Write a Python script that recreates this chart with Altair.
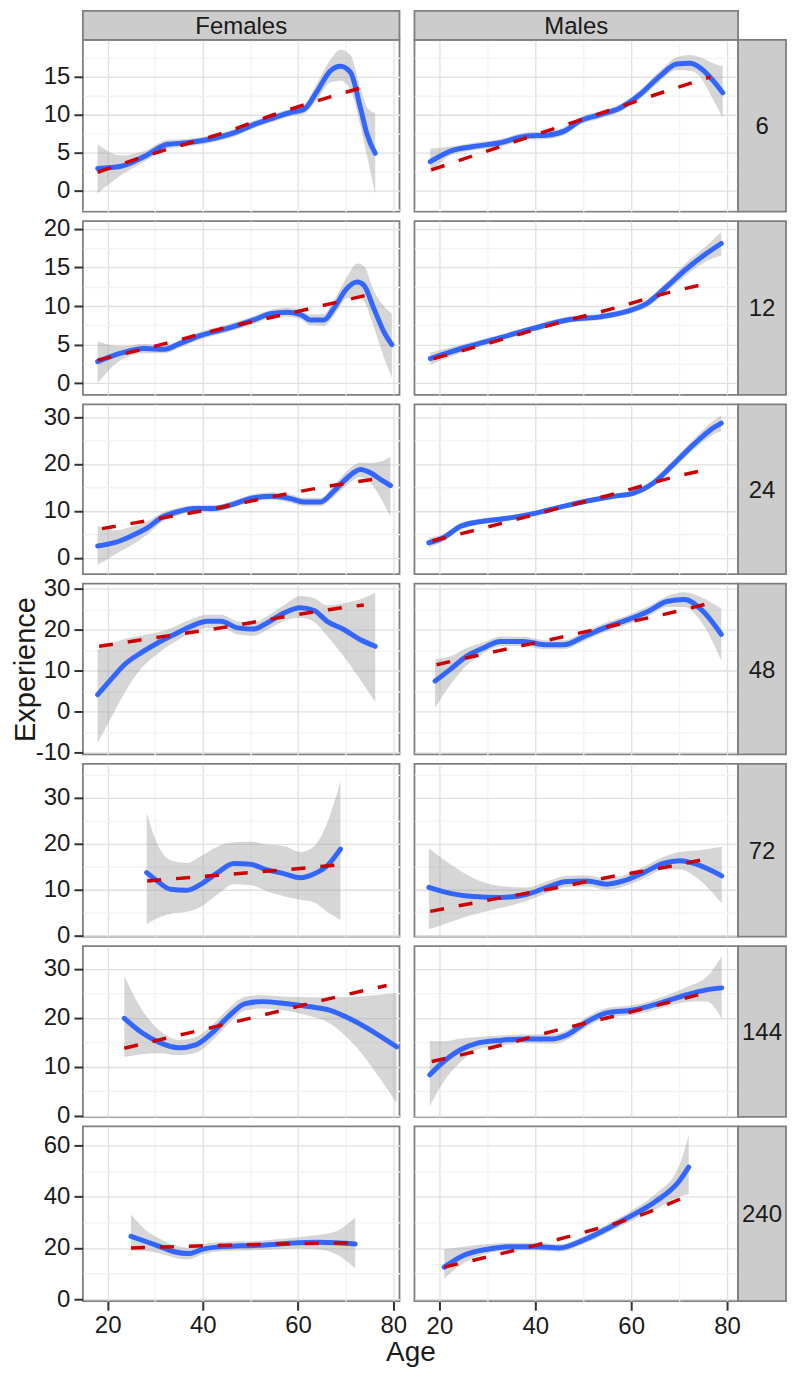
import altair as alt
import pandas as pd

FONT = "Liberation Sans"
ROWS = ["6", "12", "24", "48", "72", "144", "240"]
SEXES = ["Females", "Males"]

# ---------------- Row 6 ----------------
F6_AGE = [17.9, 22.8, 27.7, 32.6, 36.8, 42.4, 46.5, 50.7, 54.9, 58.4, 61.2, 64.0, 66.8, 68.9, 71.0, 73.1, 74.5, 76.2]
F6_FIT = [2.9, 3.2, 4.5, 6.1, 6.3, 6.9, 7.6, 8.7, 9.6, 10.3, 10.7, 13.1, 15.8, 16.4, 15.6, 10.9, 7.4, 4.9]
F6_LO = [-0.4, 2.0, 3.8, 5.5, 5.8, 6.4, 7.1, 8.2, 9.1, 9.8, 10.1, 12.0, 14.3, 14.5, 13.3, 8.5, 4.5, -0.5]
F6_HI = [6.1, 4.6, 5.2, 6.7, 6.8, 7.4, 8.1, 9.2, 10.1, 10.8, 11.3, 14.2, 17.3, 18.6, 17.9, 13.5, 11.0, 10.2]
F6_LAGE = [17.9, 31.3, 43.3, 54.9, 66.4, 74.1]
F6_LIN = [2.4, 5.2, 7.4, 10.0, 12.3, 13.7]

M6_AGE = [18.1, 22.3, 27.1, 32.7, 38.3, 42.4, 45.9, 49.4, 53.5, 57.7, 61.9, 66.0, 69.5, 72.3, 74.4, 77.1, 79.1]
M6_FIT = [3.8, 5.2, 5.8, 6.3, 7.2, 7.3, 7.8, 9.2, 10.0, 10.9, 12.7, 15.1, 16.7, 16.8, 16.2, 14.5, 12.9]
M6_LO = [2.3, 4.6, 5.3, 5.8, 6.7, 6.8, 7.3, 8.7, 9.5, 10.4, 12.1, 14.4, 15.9, 15.8, 15.0, 12.0, 9.6]
M6_HI = [5.5, 5.8, 6.3, 6.8, 7.7, 7.8, 8.3, 9.7, 10.5, 11.4, 13.3, 15.8, 17.6, 17.9, 17.6, 16.8, 16.4]
M6_LAGE = [18.3, 31.8, 43.6, 56.1, 68.6, 76.6]
M6_LIN = [2.7, 5.6, 8.1, 10.7, 13.4, 15.0]

# ---------------- Row 12 ----------------
F12_AGE = [17.9, 22.8, 27.7, 31.9, 35.4, 39.6, 45.2, 50.7, 54.2, 57.7, 60.5, 62.6, 65.4, 67.5, 70.3, 72.4, 73.8, 75.9, 78.0, 79.7]
F12_FIT = [2.8, 3.9, 4.5, 4.4, 5.2, 6.2, 7.1, 8.2, 9.0, 9.2, 8.9, 8.2, 8.2, 9.7, 12.3, 13.1, 12.7, 9.7, 6.7, 5.0]
F12_LO = [0.0, 3.0, 3.9, 3.9, 4.7, 5.7, 6.6, 7.7, 8.5, 8.6, 8.3, 7.5, 7.4, 8.7, 11.0, 11.0, 10.6, 7.3, 3.4, 0.7]
F12_HI = [5.4, 4.8, 5.1, 4.9, 5.7, 6.7, 7.6, 8.7, 9.5, 9.8, 9.5, 8.9, 9.0, 10.7, 13.8, 15.5, 15.2, 12.0, 10.0, 9.0]
F12_LAGE = [17.9, 31.2, 44.1, 56.3, 68.9, 77.0]
F12_LIN = [3.0, 5.0, 7.1, 8.8, 10.6, 11.8]

M12_AGE = [18.1, 25.7, 32.7, 39.6, 46.6, 53.5, 59.1, 63.2, 67.4, 71.5, 75.7, 78.8]
M12_FIT = [3.2, 4.7, 5.9, 7.1, 8.2, 8.6, 9.3, 10.3, 12.5, 14.8, 16.8, 18.1]
M12_LO = [2.4, 4.2, 5.5, 6.7, 7.8, 8.2, 8.9, 9.8, 11.9, 14.0, 15.8, 16.5]
M12_HI = [4.0, 5.2, 6.3, 7.5, 8.6, 9.0, 9.7, 10.8, 13.1, 15.6, 17.8, 19.6]
M12_LAGE = [18.8, 32.0, 44.1, 56.3, 68.8, 76.6]
M12_LIN = [3.2, 5.5, 7.7, 9.7, 11.9, 13.0]

# ---------------- Row 24 ----------------
F24_AGE = [17.9, 21.4, 24.9, 28.4, 31.2, 34.7, 38.2, 42.4, 46.6, 50.7, 54.9, 58.4, 61.2, 64.7, 67.5, 70.3, 73.1, 75.2, 77.3, 79.4]
F24_FIT = [2.5, 3.2, 4.6, 6.4, 8.5, 9.8, 10.5, 10.5, 11.5, 12.8, 13.1, 12.6, 11.9, 11.9, 14.2, 17.0, 18.8, 18.1, 16.7, 15.4]
F24_LO = [-1.5, 0.6, 2.6, 5.0, 7.5, 9.0, 9.8, 9.8, 10.8, 12.0, 12.3, 11.7, 11.0, 11.0, 13.0, 15.5, 17.2, 16.0, 12.8, 8.8]
F24_HI = [6.8, 5.8, 6.6, 7.8, 9.5, 10.6, 11.2, 11.2, 12.2, 13.6, 13.9, 13.5, 12.8, 12.8, 15.4, 18.5, 20.3, 20.2, 20.5, 21.4]
F24_LAGE = [18.8, 31.0, 43.0, 56.0, 68.5, 77.0]
F24_LIN = [6.2, 8.4, 10.6, 13.3, 15.6, 16.9]

M24_AGE = [17.8, 20.9, 24.4, 28.5, 34.1, 39.6, 45.2, 50.8, 56.3, 60.5, 64.7, 68.8, 73.0, 76.6, 78.8]
M24_FIT = [3.2, 4.3, 6.7, 7.7, 8.4, 9.4, 10.8, 12.1, 13.1, 13.8, 16.0, 19.9, 24.1, 27.3, 28.7]
M24_LO = [2.2, 3.5, 6.0, 7.1, 7.9, 8.9, 10.3, 11.6, 12.6, 13.2, 15.3, 19.0, 23.0, 25.9, 27.0]
M24_HI = [4.3, 5.1, 7.4, 8.3, 8.9, 9.9, 11.3, 12.6, 13.6, 14.4, 16.7, 20.8, 25.2, 28.7, 30.3]
M24_LAGE = [18.5, 32.1, 43.9, 56.4, 68.9, 76.6]
M24_LIN = [3.6, 7.1, 10.3, 13.6, 17.2, 19.0]

# ---------------- Row 48 ----------------
F48_AGE = [17.9, 20.7, 23.5, 27.0, 30.5, 34.0, 37.5, 41.0, 43.8, 47.3, 50.7, 53.5, 57.0, 60.5, 63.3, 66.1, 69.6, 73.1, 76.2]
F48_FIT = [4.2, 7.9, 11.5, 14.4, 16.8, 18.9, 20.9, 22.1, 22.1, 20.5, 20.2, 21.7, 24.1, 25.4, 24.8, 22.1, 20.1, 17.6, 16.0]
F48_LO = [-7.6, -1.5, 4.5, 10.5, 14.2, 17.0, 19.2, 20.5, 20.5, 18.9, 18.6, 20.0, 22.2, 23.0, 22.0, 18.5, 13.5, 7.8, 2.4]
F48_HI = [15.2, 16.6, 17.8, 18.6, 19.4, 20.8, 22.6, 23.7, 23.7, 22.1, 21.8, 23.4, 26.0, 28.3, 27.8, 26.0, 26.5, 27.5, 29.0]
F48_LAGE = [18.2, 31.2, 43.8, 54.6, 66.8, 73.8]
F48_LIN = [16.0, 18.3, 20.5, 22.7, 25.0, 26.1]

M48_AGE = [19.1, 22.2, 25.7, 29.2, 32.7, 37.6, 41.9, 46.0, 50.2, 54.4, 59.3, 63.5, 67.6, 71.1, 74.6, 78.8]
M48_FIT = [7.5, 10.3, 13.6, 15.6, 17.2, 17.2, 16.4, 16.4, 18.4, 20.5, 22.5, 24.5, 27.0, 27.4, 25.0, 18.9]
M48_LO = [1.0, 6.5, 11.3, 14.3, 16.0, 16.1, 15.3, 15.3, 17.3, 19.4, 21.4, 23.3, 25.6, 25.6, 22.0, 12.5]
M48_HI = [12.8, 13.5, 15.6, 16.9, 18.4, 18.3, 17.5, 17.5, 19.5, 21.6, 23.6, 25.7, 28.3, 29.2, 28.0, 25.2]
M48_LAGE = [19.4, 32.7, 44.5, 57.1, 69.4, 76.6]
M48_LIN = [11.5, 15.0, 18.0, 21.3, 24.5, 26.6]

# ---------------- Row 72 ----------------
F72_AGE = [28.2, 30.4, 33.2, 36.7, 39.6, 43.1, 46.5, 50.0, 53.5, 57.0, 60.5, 63.3, 66.1, 68.9]
F72_FIT = [13.7, 11.9, 10.1, 9.9, 11.2, 13.7, 15.7, 15.5, 14.3, 13.5, 12.6, 13.4, 15.2, 18.8]
F72_LO = [2.5, 3.8, 4.8, 5.2, 6.3, 9.0, 11.2, 11.0, 9.6, 8.6, 7.8, 7.3, 5.2, 3.4]
F72_HI = [26.7, 20.0, 16.4, 15.8, 17.3, 19.4, 20.3, 20.4, 19.8, 19.5, 18.2, 19.4, 24.5, 33.5]
F72_LAGE = [28.3, 41.6, 54.6, 68.9]
F72_LIN = [11.9, 13.0, 14.1, 15.4]

M72_AGE = [17.8, 22.3, 27.1, 32.7, 38.3, 42.4, 46.6, 50.8, 54.9, 58.4, 62.6, 66.7, 70.2, 73.7, 78.9]
M72_FIT = [10.5, 9.2, 8.5, 8.3, 9.0, 10.5, 11.8, 11.9, 11.2, 11.9, 13.7, 15.7, 16.3, 15.5, 13.0]
M72_LO = [1.4, 3.0, 4.6, 6.0, 7.6, 9.2, 10.6, 10.7, 10.0, 10.7, 12.4, 14.3, 14.4, 12.6, 7.0]
M72_HI = [19.0, 15.5, 12.5, 10.8, 10.5, 11.8, 13.0, 13.1, 12.4, 13.1, 15.0, 17.1, 18.2, 18.5, 19.3]
M72_LAGE = [18.1, 31.6, 43.8, 56.3, 68.8, 76.6]
M72_LIN = [5.3, 8.0, 10.3, 12.9, 15.2, 16.9]

# ---------------- Row 144 ----------------
F144_AGE = [23.5, 27.3, 30.8, 35.0, 38.5, 41.9, 45.4, 48.9, 52.4, 57.3, 62.2, 66.4, 71.3, 76.2, 80.7]
F144_FIT = [19.9, 16.9, 15.0, 13.9, 14.5, 16.9, 20.3, 22.9, 23.3, 22.9, 22.3, 21.6, 19.6, 16.9, 14.1]
F144_LO = [12.0, 12.6, 12.8, 12.4, 12.9, 15.3, 18.8, 21.5, 21.9, 21.5, 20.4, 19.0, 15.0, 9.0, 2.6]
F144_HI = [28.5, 21.5, 17.5, 15.5, 16.1, 18.5, 21.9, 24.3, 24.6, 24.3, 24.2, 24.2, 24.3, 24.6, 25.1]
F144_LAGE = [23.5, 30.8, 42.6, 54.5, 65.7, 78.6]
F144_LIN = [13.8, 15.5, 18.2, 21.0, 23.7, 26.6]

M144_AGE = [18.0, 20.9, 24.4, 27.8, 32.7, 38.3, 43.8, 46.6, 50.8, 54.9, 60.5, 66.0, 71.6, 75.7, 78.9]
M144_FIT = [8.4, 11.1, 13.5, 14.8, 15.4, 15.7, 15.7, 16.5, 19.2, 21.0, 21.6, 23.0, 24.7, 25.7, 26.1]
M144_LO = [2.0, 7.0, 11.0, 13.5, 14.4, 14.8, 14.7, 15.5, 18.2, 20.0, 20.6, 21.9, 23.2, 23.3, 19.8]
M144_HI = [15.3, 15.2, 15.8, 16.1, 16.4, 16.6, 16.7, 17.5, 20.2, 22.0, 22.6, 24.1, 26.3, 28.3, 32.5]
M144_LAGE = [18.4, 31.6, 44.2, 56.7, 69.2, 76.6]
M144_LIN = [11.1, 14.1, 17.4, 20.4, 23.5, 25.3]

# ---------------- Row 240 ----------------
F240_AGE = [24.9, 28.0, 31.0, 34.0, 37.0, 40.0, 44.0, 48.0, 52.0, 56.0, 60.0, 64.0, 68.0, 72.0]
F240_FIT = [24.5, 22.5, 20.5, 18.5, 17.8, 19.5, 20.5, 20.8, 21.0, 21.5, 22.0, 22.2, 22.0, 21.5]
F240_LO = [19.0, 18.8, 17.8, 16.2, 15.5, 17.5, 18.7, 19.0, 19.2, 19.5, 19.8, 19.5, 17.5, 12.0]
F240_HI = [33.0, 27.0, 23.5, 21.0, 20.0, 21.5, 22.3, 22.6, 22.8, 23.5, 24.2, 25.0, 26.5, 32.0]
F240_LAGE = [24.9, 40.0, 56.0, 72.0]
F240_LIN = [20.0, 20.8, 21.5, 22.0]

M240_AGE = [21.0, 25.0, 30.0, 35.0, 40.0, 45.0, 50.0, 55.0, 60.0, 65.0, 70.0, 72.0]
M240_FIT = [12.5, 17.0, 19.5, 20.5, 20.5, 20.0, 23.0, 27.5, 32.5, 38.0, 46.0, 51.5]
M240_LO = [8.0, 14.0, 17.8, 19.0, 19.0, 18.5, 21.5, 25.8, 30.5, 35.0, 40.0, 41.0]
M240_HI = [19.5, 20.5, 21.5, 22.0, 22.0, 21.5, 24.5, 29.2, 34.5, 41.0, 52.0, 64.0]
M240_LAGE = [21.0, 30.0, 40.0, 50.0, 60.0, 72.0]
M240_LIN = [12.5, 16.5, 21.0, 26.0, 31.5, 40.5]

# ---------------- scales / ticks ----------------
Y_DOMAIN = {"6": [-2.8, 19.9], "12": [-1.5, 21.0], "24": [-3.5, 32.7], "48": [-10.4, 31.3],
            "72": [-0.2, 37.3], "144": [-0.2, 34.6], "240": [-0.8, 67.4]}
Y_STEP = {"6": 5, "12": 5, "24": 10, "48": 10, "72": 10, "144": 10, "240": 20}
Y_GRID = {"6": [-2.5, 0, 2.5, 5, 7.5, 10, 12.5, 15, 17.5],
          "12": [0, 2.5, 5, 7.5, 10, 12.5, 15, 17.5, 20],
          "24": [0, 5, 10, 15, 20, 25, 30],
          "48": [-10, -5, 0, 5, 10, 15, 20, 25, 30],
          "72": [0, 5, 10, 15, 20, 25, 30, 35],
          "144": [0, 5, 10, 15, 20, 25, 30],
          "240": [0, 10, 20, 30, 40, 50, 60]}
X_GRID = [20, 30, 40, 50, 60, 70, 80]
X_DOMAIN = {"Females": [14.8, 81.3], "Males": [14.8, 82.3]}
PANEL_W = {"Females": 317, "Males": 324}
ROW_H = {"6": 172, "12": 174, "24": 170, "48": 171, "72": 173, "144": 171, "240": 175}
STRIP_W = 48
TOP_STRIP_H = 29

SERIES = {
    ("6", "Females"): (F6_AGE, F6_FIT, F6_LO, F6_HI, F6_LAGE, F6_LIN),
    ("6", "Males"): (M6_AGE, M6_FIT, M6_LO, M6_HI, M6_LAGE, M6_LIN),
    ("12", "Females"): (F12_AGE, F12_FIT, F12_LO, F12_HI, F12_LAGE, F12_LIN),
    ("12", "Males"): (M12_AGE, M12_FIT, M12_LO, M12_HI, M12_LAGE, M12_LIN),
    ("24", "Females"): (F24_AGE, F24_FIT, F24_LO, F24_HI, F24_LAGE, F24_LIN),
    ("24", "Males"): (M24_AGE, M24_FIT, M24_LO, M24_HI, M24_LAGE, M24_LIN),
    ("48", "Females"): (F48_AGE, F48_FIT, F48_LO, F48_HI, F48_LAGE, F48_LIN),
    ("48", "Males"): (M48_AGE, M48_FIT, M48_LO, M48_HI, M48_LAGE, M48_LIN),
    ("72", "Females"): (F72_AGE, F72_FIT, F72_LO, F72_HI, F72_LAGE, F72_LIN),
    ("72", "Males"): (M72_AGE, M72_FIT, M72_LO, M72_HI, M72_LAGE, M72_LIN),
    ("144", "Females"): (F144_AGE, F144_FIT, F144_LO, F144_HI, F144_LAGE, F144_LIN),
    ("144", "Males"): (M144_AGE, M144_FIT, M144_LO, M144_HI, M144_LAGE, M144_LIN),
    ("240", "Females"): (F240_AGE, F240_FIT, F240_LO, F240_HI, F240_LAGE, F240_LIN),
    ("240", "Males"): (M240_AGE, M240_FIT, M240_LO, M240_HI, M240_LAGE, M240_LIN),
}

GRID_MAJOR = "#E0E0E0"
GRID_MINOR = "#F3F3F3"
BORDER = "#7F7F7F"
STRIP_FILL = "#CCCCCC"
TEXT = "#1a1a1a"


def make_axis(values, step, show, **extra):
    major = f"datum.value % {step} === 0"
    kw = dict(
        values=values,
        grid=True,
        domain=False,
        gridColor={"condition": {"test": major, "value": GRID_MAJOR}, "value": GRID_MINOR},
        gridWidth=1.3,
        labelOverlap=False,
        labelFlush=False,
        labelBound=False,
    )
    if show:
        kw.update(
            labels=True,
            ticks=True,
            tickOpacity={"condition": {"test": major, "value": 1}, "value": 0},
            labelExpr=f"{major} ? '' + datum.value : ''",
        )
    else:
        kw.update(labels=False, ticks=False)
    kw.update(extra)
    return alt.Axis(**kw)


def strip_layers(label, x0, x1, y0, y1):
    df = pd.DataFrame({"label": [label]})
    box = alt.Chart(df).mark_rect(fill=STRIP_FILL, stroke=BORDER, strokeWidth=1.8).encode(
        x=alt.value(x0), x2=alt.value(x1), y=alt.value(y0), y2=alt.value(y1)
    )
    txt = alt.Chart(df).mark_text(
        fontSize=24, font=FONT, color=TEXT, align="center", baseline="alphabetic"
    ).encode(
        x=alt.value((x0 + x1) / 2), y=alt.value((y0 + y1) / 2 + 8.5), text="label:N"
    )
    return [box, txt]


def panel(row, sex):
    age, fit, lo, hi, lage, lin = SERIES[(row, sex)]
    band_df = pd.DataFrame({"age": age, "fit": fit, "lo": lo, "hi": hi})
    lin_df = pd.DataFrame({"age": lage, "lin": lin})
    w, h = PANEL_W[sex], ROW_H[row]

    bottom = row == ROWS[-1]
    left = sex == "Females"

    x_extra = {}
    if bottom and left:
        x_extra = dict(titleX=410 - 82, titlePadding=1, titleAlign="center",
                       labelPadding=3, titleFontSize=28)
    xaxis = make_axis(X_GRID, 20, bottom, **x_extra)

    y_extra = {}
    if left and row == "48":
        y_extra = dict(titleX=-57.5, titleY=h / 2, titleAngle=270,
                       titleAlign="center", titleBaseline="middle")
    yaxis = make_axis(Y_GRID[row], Y_STEP[row], left, **y_extra)

    xs = alt.Scale(domain=X_DOMAIN[sex], nice=False, zero=False)
    ys = alt.Scale(domain=Y_DOMAIN[row], nice=False, zero=False)
    x_title = "Age" if (bottom and left) else None
    y_title = "Experience" if (left and row == "48") else None
    X = alt.X("age:Q", scale=xs, axis=xaxis, title=x_title)

    band = alt.Chart(band_df).mark_area(color="#999999", opacity=0.4, interpolate="monotone").encode(
        x=X,
        y=alt.Y("lo:Q", scale=ys, axis=yaxis, title=y_title),
        y2="hi:Q",
    )
    blue = alt.Chart(band_df).mark_line(color="#3366FF", strokeWidth=5, interpolate="monotone",
                                        strokeCap="round", strokeJoin="round").encode(
        x=X,
        y=alt.Y("fit:Q", scale=ys, axis=yaxis, title=y_title),
    )
    red = alt.Chart(lin_df).mark_line(color="#CC0000", strokeWidth=3.5, strokeDash=[14, 15],
                                      interpolate="monotone").encode(
        x=X,
        y=alt.Y("lin:Q", scale=ys, axis=yaxis, title=y_title),
    )
    layers = [band, blue, red]
    if row == ROWS[0]:
        layers += strip_layers(sex, 0, w, -TOP_STRIP_H, 0)
    if not left:
        layers += strip_layers(row, w, w + STRIP_W, 0, h)
    return alt.layer(*layers).properties(width=w, height=h)


panels = []
for r in ROWS:
    for s in SEXES:
        panels.append(panel(r, s))

chart = alt.concat(
    *panels, columns=2, spacing={"row": 9.5, "column": 15}, bounds="flush"
).properties(
    padding={"left": 2, "top": 0, "right": 0, "bottom": 0},
    autosize=alt.AutoSizeParams(type="pad"), background="white"
).configure_axis(
    labelFont=FONT, titleFont=FONT, labelFontSize=24, titleFontSize=29,
    labelColor=TEXT, titleColor=TEXT, titleFontWeight="normal",
    tickColor="#333333", tickSize=9, tickWidth=2, labelPadding=4,
).configure_view(
    stroke=BORDER, strokeWidth=1.8
)

chart.save("out.html", embed_options={"renderer": "svg", "actions": False})
